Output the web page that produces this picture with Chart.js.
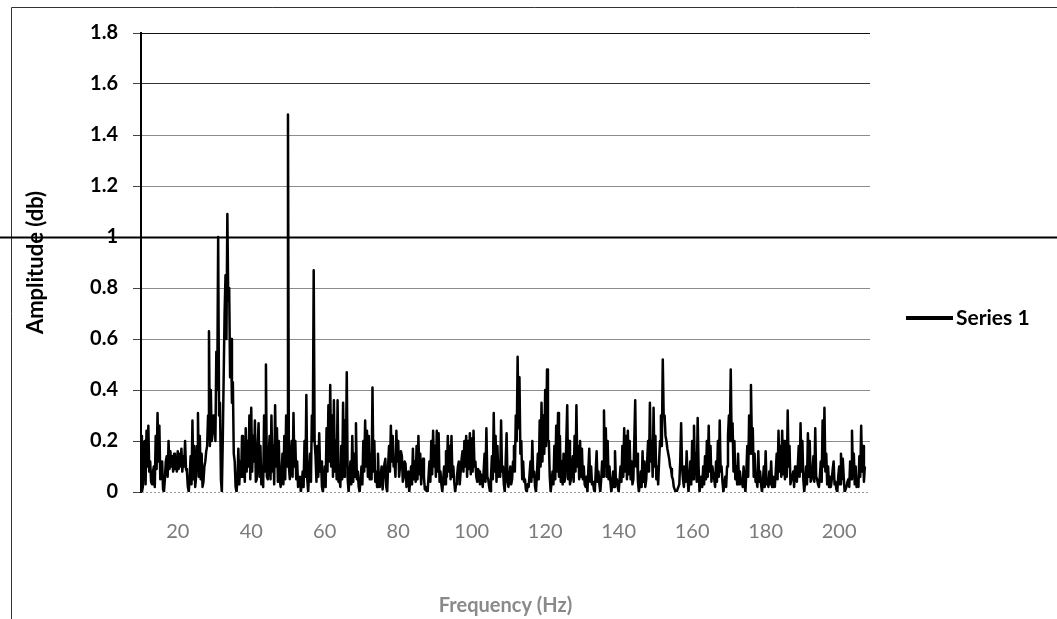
<!DOCTYPE html>
<html>
<head>
<meta charset="utf-8">
<script src="https://cdn.jsdelivr.net/npm/chart.js@4.4.1/dist/chart.umd.min.js"></script>
<style>
  html, body { margin: 0; padding: 0; background: #ffffff; }
  #wrap { width: 1057px; height: 619px; position: relative; }
</style>
</head>
<body>
<div id="wrap"><canvas id="spectrum" width="1057" height="619"></canvas></div>
<script>
// Amplitude spectrum, one value per 0.25 Hz bin
const seriesName = 'Series 1';
const binStart = 10;     // Hz, first bin
const binStep = 0.25;    // Hz between bins

// 10.00 - 29.75 Hz
const amp10to30 = [
  0.22, 0.00, 0.02, 0.19, 0.20, 0.03, 0.24, 0.10, 0.26, 0.08,
  0.12, 0.04, 0.03, 0.08, 0.10, 0.02, 0.22, 0.09, 0.31, 0.12,
  0.26, 0.05, 0.08, 0.12, 0.01, 0.00, 0.05, 0.12, 0.14, 0.06,
  0.20, 0.09, 0.16, 0.10, 0.14, 0.08, 0.15, 0.09, 0.13, 0.08,
  0.16, 0.09, 0.15, 0.10, 0.17, 0.08, 0.14, 0.10, 0.20, 0.09,
  0.08, 0.02, 0.00, 0.06, 0.14, 0.03, 0.28, 0.05, 0.18, 0.02,
  0.06, 0.18, 0.31, 0.06, 0.22, 0.05, 0.15, 0.02, 0.04, 0.10,
  0.12, 0.16, 0.18, 0.30, 0.63, 0.18, 0.40, 0.20, 0.23, 0.30
];
// 30.00 - 49.75 Hz
const amp30to50 = [
  0.30, 0.20, 0.55, 0.40, 1.00, 0.30, 0.35, 0.05, 0.00, 0.20,
  0.45, 0.70, 0.85, 0.60, 1.09, 0.75, 0.80, 0.45, 0.60, 0.35,
  0.43, 0.15, 0.12, 0.02, 0.00, 0.05, 0.17, 0.03, 0.12, 0.06,
  0.22, 0.06, 0.18, 0.04, 0.25, 0.08, 0.20, 0.10, 0.30, 0.05,
  0.33, 0.08, 0.22, 0.12, 0.28, 0.04, 0.05, 0.18, 0.27, 0.06,
  0.18, 0.03, 0.10, 0.02, 0.30, 0.08, 0.50, 0.06, 0.05, 0.14,
  0.22, 0.05, 0.30, 0.08, 0.18, 0.03, 0.34, 0.10, 0.25, 0.04,
  0.20, 0.05, 0.02, 0.07, 0.15, 0.03, 0.22, 0.05, 0.30, 0.10
];
// 50.00 - 69.75 Hz
const amp50to70 = [
  1.48, 0.10, 0.05, 0.14, 0.20, 0.06, 0.31, 0.10, 0.20, 0.05,
  0.12, 0.02, 0.02, 0.06, 0.00, 0.03, 0.08, 0.02, 0.20, 0.06,
  0.38, 0.05, 0.00, 0.08, 0.15, 0.04, 0.30, 0.20, 0.87, 0.20,
  0.14, 0.04, 0.18, 0.06, 0.23, 0.08, 0.12, 0.02, 0.00, 0.05,
  0.10, 0.02, 0.25, 0.08, 0.34, 0.12, 0.42, 0.10, 0.30, 0.06,
  0.36, 0.08, 0.20, 0.05, 0.36, 0.04, 0.05, 0.02, 0.18, 0.05,
  0.35, 0.06, 0.28, 0.10, 0.47, 0.05, 0.00, 0.06, 0.12, 0.03,
  0.22, 0.04, 0.15, 0.06, 0.27, 0.05, 0.08, 0.02, 0.00, 0.05
];
// 70.00 - 89.75 Hz
const amp70to90 = [
  0.10, 0.03, 0.20, 0.08, 0.28, 0.10, 0.24, 0.06, 0.22, 0.05,
  0.15, 0.05, 0.41, 0.08, 0.20, 0.04, 0.08, 0.02, 0.15, 0.03,
  0.02, 0.07, 0.10, 0.01, 0.06, 0.11, 0.13, 0.02, 0.00, 0.10,
  0.18, 0.08, 0.26, 0.12, 0.22, 0.10, 0.12, 0.06, 0.24, 0.12,
  0.20, 0.06, 0.10, 0.16, 0.14, 0.04, 0.06, 0.12, 0.11, 0.02,
  0.04, 0.08, 0.00, 0.04, 0.10, 0.03, 0.17, 0.05, 0.12, 0.04,
  0.18, 0.05, 0.22, 0.07, 0.15, 0.03, 0.10, 0.13, 0.06, 0.01,
  0.02, 0.00, 0.00, 0.06, 0.12, 0.04, 0.20, 0.07, 0.24, 0.10
];
// 90.00 - 109.75 Hz
const amp90to110 = [
  0.18, 0.06, 0.24, 0.08, 0.23, 0.04, 0.08, 0.03, 0.00, 0.05,
  0.10, 0.03, 0.16, 0.06, 0.22, 0.08, 0.18, 0.05, 0.22, 0.06,
  0.10, 0.04, 0.00, 0.03, 0.06, 0.10, 0.12, 0.03, 0.08, 0.13,
  0.16, 0.08, 0.20, 0.10, 0.22, 0.06, 0.20, 0.09, 0.23, 0.07,
  0.21, 0.08, 0.24, 0.10, 0.12, 0.06, 0.04, 0.09, 0.08, 0.03,
  0.07, 0.05, 0.02, 0.08, 0.15, 0.04, 0.25, 0.06, 0.05, 0.02,
  0.00, 0.06, 0.14, 0.05, 0.31, 0.08, 0.22, 0.04, 0.18, 0.06,
  0.12, 0.06, 0.28, 0.08, 0.10, 0.03, 0.00, 0.12, 0.23, 0.04
];
// 110.00 - 129.75 Hz
const amp110to130 = [
  0.02, 0.06, 0.10, 0.03, 0.05, 0.12, 0.18, 0.08, 0.30, 0.20,
  0.53, 0.25, 0.45, 0.15, 0.20, 0.05, 0.12, 0.04, 0.05, 0.01,
  0.00, 0.03, 0.02, 0.07, 0.12, 0.04, 0.20, 0.06, 0.08, 0.02,
  0.00, 0.07, 0.15, 0.05, 0.28, 0.10, 0.35, 0.12, 0.30, 0.15,
  0.40, 0.18, 0.48, 0.20, 0.20, 0.06, 0.00, 0.04, 0.08, 0.03,
  0.18, 0.05, 0.26, 0.08, 0.31, 0.06, 0.22, 0.04, 0.12, 0.03,
  0.15, 0.04, 0.06, 0.20, 0.34, 0.05, 0.20, 0.03, 0.05, 0.10,
  0.14, 0.04, 0.22, 0.08, 0.34, 0.10, 0.18, 0.05, 0.20, 0.06
];
// 130.00 - 149.75 Hz
const amp130to150 = [
  0.17, 0.05, 0.10, 0.03, 0.02, 0.06, 0.00, 0.09, 0.17, 0.04,
  0.10, 0.03, 0.04, 0.01, 0.00, 0.08, 0.16, 0.04, 0.08, 0.03,
  0.00, 0.05, 0.12, 0.06, 0.32, 0.10, 0.25, 0.06, 0.20, 0.05,
  0.10, 0.04, 0.00, 0.03, 0.08, 0.02, 0.16, 0.04, 0.05, 0.02,
  0.00, 0.05, 0.10, 0.04, 0.18, 0.06, 0.25, 0.08, 0.22, 0.05,
  0.24, 0.07, 0.20, 0.05, 0.12, 0.03, 0.05, 0.20, 0.36, 0.10,
  0.15, 0.04, 0.00, 0.03, 0.08, 0.02, 0.16, 0.04, 0.12, 0.02,
  0.05, 0.12, 0.20, 0.08, 0.35, 0.12, 0.20, 0.06, 0.33, 0.10
];
// 150.00 - 169.75 Hz
const amp150to170 = [
  0.22, 0.05, 0.10, 0.03, 0.12, 0.20, 0.30, 0.18, 0.52, 0.30,
  0.30, 0.22, 0.20, 0.17, 0.15, 0.13, 0.10, 0.09, 0.06, 0.05,
  0.02, 0.01, 0.00, 0.00, 0.01, 0.02, 0.03, 0.12, 0.27, 0.10,
  0.05, 0.02, 0.10, 0.04, 0.16, 0.06, 0.00, 0.05, 0.12, 0.03,
  0.20, 0.05, 0.26, 0.08, 0.15, 0.04, 0.29, 0.10, 0.00, 0.03,
  0.06, 0.02, 0.10, 0.03, 0.14, 0.05, 0.20, 0.06, 0.26, 0.08,
  0.18, 0.04, 0.10, 0.07, 0.05, 0.02, 0.12, 0.04, 0.20, 0.06,
  0.28, 0.08, 0.10, 0.04, 0.00, 0.03, 0.06, 0.02, 0.10, 0.22
];
// 170.00 - 189.75 Hz
const amp170to190 = [
  0.30, 0.20, 0.48, 0.20, 0.27, 0.08, 0.20, 0.05, 0.10, 0.03,
  0.15, 0.03, 0.08, 0.04, 0.05, 0.02, 0.10, 0.03, 0.00, 0.08,
  0.18, 0.06, 0.30, 0.15, 0.42, 0.20, 0.25, 0.06, 0.15, 0.04,
  0.05, 0.02, 0.16, 0.04, 0.08, 0.03, 0.00, 0.04, 0.10, 0.02,
  0.16, 0.03, 0.05, 0.02, 0.08, 0.03, 0.12, 0.02, 0.06, 0.03,
  0.02, 0.08, 0.15, 0.05, 0.24, 0.08, 0.18, 0.06, 0.24, 0.07,
  0.20, 0.05, 0.12, 0.06, 0.32, 0.10, 0.18, 0.03, 0.05, 0.06,
  0.08, 0.02, 0.10, 0.06, 0.04, 0.10, 0.18, 0.06, 0.27, 0.08
];
// 190.00 - 207.00 Hz
const amp190to207 = [
  0.20, 0.05, 0.00, 0.04, 0.10, 0.03, 0.23, 0.06, 0.20, 0.04,
  0.05, 0.08, 0.14, 0.04, 0.25, 0.06, 0.05, 0.03, 0.02, 0.06,
  0.12, 0.04, 0.28, 0.10, 0.33, 0.08, 0.15, 0.03, 0.10, 0.02,
  0.06, 0.02, 0.05, 0.09, 0.12, 0.03, 0.04, 0.01, 0.00, 0.06,
  0.10, 0.03, 0.15, 0.05, 0.13, 0.06, 0.00, 0.01, 0.02, 0.04,
  0.05, 0.02, 0.12, 0.05, 0.24, 0.08, 0.15, 0.03, 0.10, 0.02,
  0.05, 0.02, 0.14, 0.06, 0.26, 0.08, 0.18, 0.04, 0.10
];

const xTickValues = [20, 40, 60, 80, 100, 120, 140, 160, 180, 200];
const yMin = 0, yMax = 1.8, yStep = 0.2;
const xMin = 10, xMax = 208.4;
const markerLevel = 1;   // level of the full-width horizontal rule

const amplitudes = [].concat(amp10to30, amp30to50, amp50to70, amp70to90, amp90to110,
                             amp110to130, amp130to150, amp150to170, amp170to190, amp190to207);
const spectrumPoints = amplitudes.map((a, i) => ({ x: binStart + i * binStep, y: a }));

// Page frame (left and top rules)
const framePlugin = {
  id: 'frame',
  beforeDraw(chart) {
    const ctx = chart.ctx;
    ctx.save();
    ctx.fillStyle = '#ffffff';
    ctx.fillRect(0, 0, chart.width, chart.height);
    ctx.strokeStyle = '#333333';
    ctx.lineWidth = 1;
    ctx.beginPath();
    ctx.moveTo(11.5, 619);
    ctx.lineTo(11.5, 7.5);
    ctx.lineTo(chart.width, 7.5);
    ctx.stroke();
    ctx.restore();
  }
};

// Full-width rule at amplitude 1 and the series key on the right
const overlayPlugin = {
  id: 'overlay',
  afterDraw(chart) {
    const ctx = chart.ctx;
    const y = Math.round(chart.scales.y.getPixelForValue(markerLevel)) + 0.5;
    ctx.save();
    ctx.strokeStyle = '#000000';
    ctx.lineWidth = 2;
    ctx.beginPath();
    ctx.moveTo(0, y);
    ctx.lineTo(chart.width, y);
    ctx.stroke();

    const ds = chart.data.datasets[0];
    const ky = 318;
    ctx.lineWidth = 4;
    ctx.strokeStyle = ds.borderColor;
    ctx.beginPath();
    ctx.moveTo(906, ky);
    ctx.lineTo(953, ky);
    ctx.stroke();
    ctx.fillStyle = '#000000';
    ctx.font = 'bold 21px Lato';
    ctx.textAlign = 'left';
    ctx.textBaseline = 'middle';
    ctx.fillText(ds.label, 956, ky);
    ctx.restore();
  }
};

const gridColorFor = (v) => {
  if (v >= 1.79) return '#111111';
  if (v >= 1.59) return '#333333';
  if (v <= 0.001) return '#9a9a9a';
  return '#8c8c8c';
};

new Chart(document.getElementById('spectrum'), {
  type: 'line',
  data: {
    datasets: [{
      label: seriesName,
      data: spectrumPoints,
      borderColor: '#000000',
      borderWidth: 2.5,
      borderJoinStyle: 'round',
      pointRadius: 0,
      tension: 0,
      fill: false
    }]
  },
  options: {
    responsive: false,
    animation: false,
    events: [],
    layout: { padding: { left: 0, top: 33, right: 187, bottom: 0 } },
    plugins: {
      legend: { display: false },
      tooltip: { enabled: false }
    },
    scales: {
      x: {
        type: 'linear',
        min: xMin,
        max: xMax,
        afterBuildTicks(axis) { axis.ticks = xTickValues.map(v => ({ value: v })); },
        afterFit(axis) { axis.height = 127; },
        grid: { display: false, drawTicks: false },
        border: { display: false },
        ticks: {
          color: '#7a7a7a',
          font: { family: 'Lato', size: 20 },
          padding: 28,
          maxRotation: 0,
          autoSkip: false,
          callback: (v) => String(v)
        },
        title: {
          display: true,
          text: 'Frequency (Hz)',
          color: '#8a8a8a',
          font: { family: 'Lato', size: 20, weight: 'bold' },
          padding: { top: 0, bottom: 1 }
        }
      },
      y: {
        min: yMin,
        max: yMax,
        afterFit(axis) { axis.width = 141; },
        ticks: {
          stepSize: yStep,
          color: '#000000',
          font: { family: 'Lato', size: 20, weight: 'bold' },
          padding: 15,
          callback: (v) => String(+v.toFixed(1))
        },
        grid: {
          color: (c) => gridColorFor(c.tick ? c.tick.value : 0),
          lineWidth: 1,
          tickLength: 8,
          tickColor: '#444444'
        },
        border: {
          display: true,
          color: '#000000',
          width: 2,
          dash: (c) => (c.tick && c.tick.value <= 0.001 ? [2, 2] : [])
        },
        title: {
          display: true,
          text: 'Amplitude (db)',
          color: '#000000',
          font: { family: 'Lato', size: 22, weight: 'bold' },
          padding: { top: 23, bottom: 0 }
        }
      }
    }
  },
  plugins: [framePlugin, overlayPlugin]
});
</script>
</body>
</html>
